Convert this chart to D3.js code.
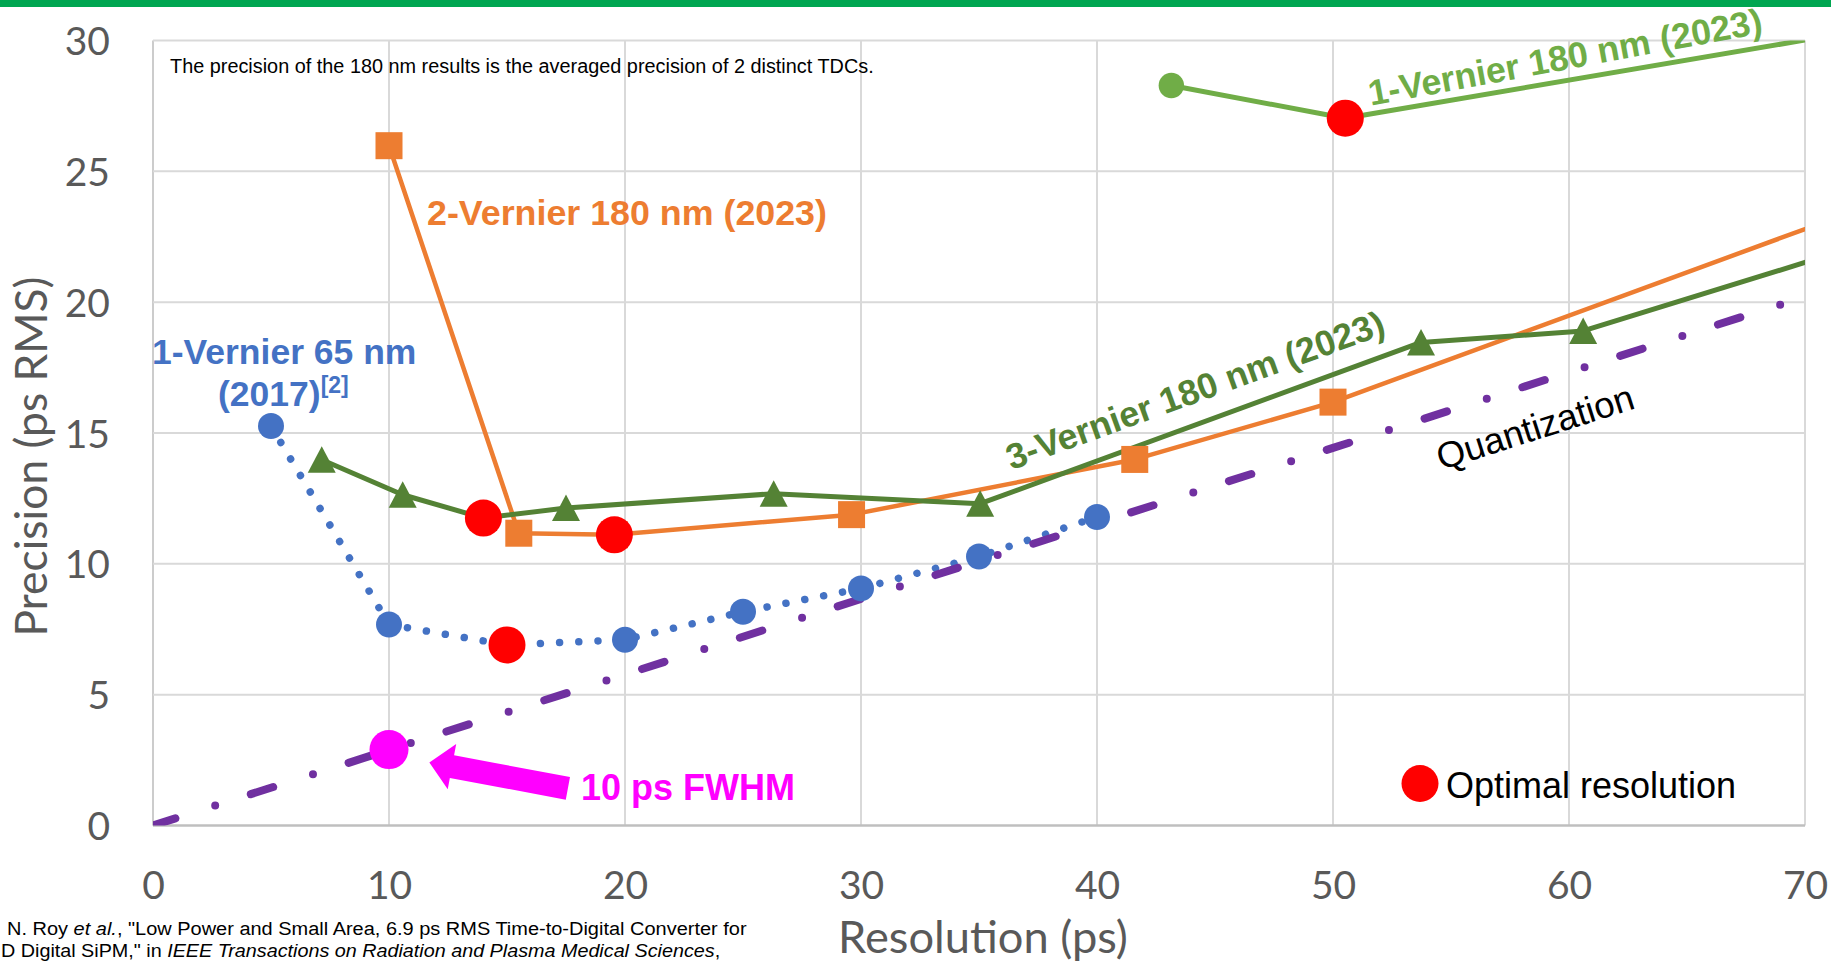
<!DOCTYPE html>
<html><head><meta charset="utf-8">
<script src="https://cdn.jsdelivr.net/npm/d3@7"></script>
<style>body{margin:0;background:#fff;overflow:hidden} svg{display:block}</style>
</head><body>
<svg id="c" width="1831" height="962"></svg>
<script>
// ---------- data ----------
const xTicks = [0, 10, 20, 30, 40, 50, 60, 70];
const yTicks = [0, 5, 10, 15, 20, 25, 30];

// 1-Vernier 65 nm (2017)
const v65X = [5, 10, 15, 20, 25, 30, 35, 40];
const v65Y = [15.27, 7.68, 6.9, 7.1, 8.17, 9.06, 10.28, 11.79];
// 2-Vernier 180 nm (2023)
const v2X = [10, 15.5, 19.55, 29.6, 41.6, 50.0, 80];
const v2Y = [25.98, 11.17, 11.11, 11.88, 13.99, 16.18, 26.1];
// 3-Vernier 180 nm (2023)
const v3X = [7.15, 10.58, 14.0, 17.5, 26.3, 35.05, 53.73, 60.6, 80];
const v3Y = [13.98, 12.64, 11.75, 12.13, 12.68, 12.3, 18.46, 18.9, 24.3];
// 1-Vernier 180 nm (2023)
const v1X = [43.15, 50.52, 80];
const v1Y = [28.28, 27.03, 31.55];
// Quantization
const quantX = [0, 10, 20, 30, 40, 50, 60, 70];
const quantY = [0, 2.89, 5.77, 8.66, 11.55, 14.43, 17.32, 20.21];
// Optimal resolution points
const optX = [14.0, 15, 19.55, 50.52];
const optY = [11.75, 6.9, 11.11, 27.03];
// 10 ps FWHM point and arrow
const fwhmX = [10];
const fwhmY = [2.9];
const arrowTip = [11.71, 2.41];
const arrowTail = [17.58, 1.42];

const zip = (a, b) => a.map((v, i) => [v, b[i]]);

// ---------- layout ----------
const svg = d3.select('#c');
const W = 1831, H = 962;
const x = d3.scaleLinear().domain([0, 70]).range([153, 1805]);
const y = d3.scaleLinear().domain([0, 30]).range([825.5, 40.5]);

const C = {
  orange: '#ED7D31', dgreen: '#548235', lgreen: '#70AD47', blue: '#4472C4',
  purple: '#7030A0', red: '#FF0000', magenta: '#FF00FF', grid: '#D9D9D9', tick: '#595959'
};
const ARIAL = "'Liberation Sans', Arial, sans-serif";
const NARROW = "'Liberation Sans Narrow', 'Liberation Sans', Arial, sans-serif";
const CALIBRI = "Lato, 'Open Sans', sans-serif";

svg.append('rect').attr('width', W).attr('height', H).attr('fill', '#fff');
// green top bar
svg.append('rect').attr('x', 0).attr('y', 0).attr('width', W).attr('height', 7).attr('fill', '#00A651');

// grid
const g = svg.append('g');
g.selectAll('line.vg').data(xTicks).join('line')
  .attr('x1', d => x(d)).attr('x2', d => x(d)).attr('y1', y(30)).attr('y2', y(0))
  .attr('stroke', d => d === 0 ? '#CCCCCC' : C.grid).attr('stroke-width', 2);
g.selectAll('line.hg').data(yTicks).join('line')
  .attr('x1', x(0)).attr('x2', x(70)).attr('y1', d => y(d)).attr('y2', d => y(d))
  .attr('stroke', d => d === 0 ? '#BFBFBF' : C.grid).attr('stroke-width', d => d === 0 ? 2.5 : 2);

// axes tick labels via d3 axes
const xAxis = svg.append('g').attr('transform', `translate(0,${y(0)})`)
  .call(d3.axisBottom(x).tickValues(xTicks).tickSize(0).tickPadding(0));
xAxis.select('.domain').remove();
xAxis.selectAll('text').attr('font-family', CALIBRI).attr('font-size', 39).attr('fill', C.tick)
  .attr('dy', null).attr('y', 73);
const yAxis = svg.append('g').attr('transform', `translate(110,0)`)
  .call(d3.axisLeft(y).tickValues(yTicks).tickSize(0).tickPadding(0));
yAxis.select('.domain').remove();
yAxis.selectAll('text').attr('font-family', CALIBRI).attr('font-size', 39).attr('fill', C.tick)
  .attr('dy', null).attr('y', 14).attr('x', 0);

function fitWidth(sel, target) {
  const w = sel.node().getComputedTextLength();
  const fs = parseFloat(sel.attr('font-size'));
  sel.attr('font-size', fs * target / w);
}
function squeeze(sel, x0, y0, target) {
  const w = sel.node().getComputedTextLength();
  sel.attr('transform', `translate(${x0},${y0}) scale(${target / w},1)`);
}

// axis titles
const xt = svg.append('text').attr('x', 983).attr('y', 953).attr('text-anchor', 'middle')
  .attr('font-family', CALIBRI).attr('font-size', 46).attr('fill', C.tick).text('Resolution (ps)');
fitWidth(xt, 290);
const yt = svg.append('text').attr('transform', 'translate(47,456.5) rotate(-90)').attr('text-anchor', 'middle')
  .attr('font-family', CALIBRI).attr('font-size', 46).attr('fill', C.tick).text('Precision (ps RMS)');
fitWidth(yt, 360);

// clip
svg.append('clipPath').attr('id', 'plot').append('rect')
  .attr('x', x(0)).attr('y', y(30)).attr('width', x(70) - x(0)).attr('height', y(0) - y(30));

const line = d3.line().x(d => x(d[0])).y(d => y(d[1]));
const inRange = d => d[0] <= 70 && d[1] <= 30;
const series = svg.append('g');
const lines = series.append('g').attr('clip-path', 'url(#plot)');

// 2-Vernier (orange, squares)
const dV2 = zip(v2X, v2Y);
lines.append('path').datum(dV2).attr('d', line).attr('fill', 'none')
  .attr('stroke', C.orange).attr('stroke-width', 4.5).attr('stroke-linejoin', 'round');
// 3-Vernier (dark green, triangles)
const dV3 = zip(v3X, v3Y);
lines.append('path').datum(dV3).attr('d', line).attr('fill', 'none')
  .attr('stroke', C.dgreen).attr('stroke-width', 5).attr('stroke-linejoin', 'round');
// 1-Vernier 180 (light green)
const dV1 = zip(v1X, v1Y);
lines.append('path').datum(dV1).attr('d', line).attr('fill', 'none')
  .attr('stroke', C.lgreen).attr('stroke-width', 5).attr('stroke-linejoin', 'round');

series.selectAll('rect.sq').data(dV2.filter(inRange)).join('rect')
  .attr('x', d => x(d[0]) - 13.5).attr('y', d => y(d[1]) - 13.5)
  .attr('width', 27).attr('height', 27).attr('fill', C.orange);
series.selectAll('path.tri').data(dV3.filter(inRange)).join('path')
  .attr('d', 'M0,-13.5 L14,13 L-14,13 Z')
  .attr('transform', d => `translate(${x(d[0])},${y(d[1])})`).attr('fill', C.dgreen);
series.selectAll('circle.lg').data(dV1.filter(inRange)).join('circle')
  .attr('cx', d => x(d[0])).attr('cy', d => y(d[1])).attr('r', 12.7).attr('fill', C.lgreen);

// 1-Vernier 65 nm (blue dotted, circles)
const dV65 = zip(v65X, v65Y);
lines.append('path').datum(dV65).attr('d', line).attr('fill', 'none')
  .attr('stroke', C.blue).attr('stroke-width', 7.5).attr('stroke-linecap', 'round')
  .attr('stroke-dasharray', '0.01 19.2');
series.selectAll('circle.bl').data(dV65).join('circle')
  .attr('cx', d => x(d[0])).attr('cy', d => y(d[1])).attr('r', 13).attr('fill', C.blue);

// Quantization (purple dash-dot)
const dQ = zip(quantX, quantY);
lines.append('path').datum(dQ).attr('d', line).attr('fill', 'none')
  .attr('stroke', C.purple).attr('stroke-width', 8).attr('stroke-linecap', 'round')
  .attr('stroke-dasharray', '23.5 41.8 0 37.4');

// 10 ps FWHM point
series.selectAll('circle.fw').data(zip(fwhmX, fwhmY)).join('circle')
  .attr('cx', d => x(d[0])).attr('cy', d => y(d[1])).attr('r', 19.5).attr('fill', C.magenta);

// arrow
(function () {
  const tx = x(arrowTip[0]), ty = y(arrowTip[1]);
  const sx = x(arrowTail[0]), sy = y(arrowTail[1]);
  const L = Math.hypot(tx - sx, ty - sy);
  const ux = (tx - sx) / L, uy = (ty - sy) / L;
  const px = -uy, py = ux;
  const sw = 23, hw = 46, hl = 23;
  const bx = tx - ux * hl, by = ty - uy * hl;
  const pts = [
    [sx + px * sw / 2, sy + py * sw / 2],
    [bx + px * sw / 2, by + py * sw / 2],
    [bx + px * hw / 2, by + py * hw / 2],
    [tx, ty],
    [bx - px * hw / 2, by - py * hw / 2],
    [bx - px * sw / 2, by - py * sw / 2],
    [sx - px * sw / 2, sy - py * sw / 2]
  ];
  svg.append('path').attr('d', 'M' + pts.map(p => p.join(',')).join('L') + 'Z').attr('fill', C.magenta);
})();

// optimal points
series.selectAll('circle.opt').data(zip(optX, optY)).join('circle')
  .attr('cx', d => x(d[0])).attr('cy', d => y(d[1])).attr('r', 18.5).attr('fill', C.red);

// ---------- labels ----------
const lab = svg.append('g').attr('font-family', ARIAL);
lab.append('text').attr('x', 427).attr('y', 225).attr('font-size', 35.8).attr('font-weight', 'bold')
  .attr('fill', C.orange).text('2-Vernier 180 nm (2023)');
lab.append('text').attr('x', 152).attr('y', 364).attr('font-size', 35.5).attr('font-weight', 'bold')
  .attr('fill', C.blue).text('1-Vernier 65 nm');
const t2017 = lab.append('text').attr('x', 218).attr('y', 406).attr('font-size', 35.5).attr('font-weight', 'bold')
  .attr('fill', C.blue);
t2017.append('tspan').text('(2017)');
t2017.append('tspan').attr('font-size', 23).attr('dy', -13).text('[2]');

lab.append('text').attr('transform', 'translate(1195,390) rotate(-20)').attr('text-anchor', 'middle')
  .attr('dy', '0.35em').attr('font-size', 35.8).attr('font-weight', 'bold').attr('fill', C.dgreen)
  .text('3-Vernier 180 nm (2023)');
lab.append('text').attr('transform', 'translate(1565,57) rotate(-10.5)').attr('text-anchor', 'middle')
  .attr('dy', '0.35em').attr('font-size', 35.8).attr('font-weight', 'bold').attr('fill', C.lgreen)
  .text('1-Vernier 180 nm (2023)');
lab.append('text').attr('transform', 'translate(1535,427) rotate(-17.7)').attr('text-anchor', 'middle')
  .attr('dy', '0.35em').attr('font-size', 36.5).attr('fill', '#000').text('Quantization');
lab.append('text').attr('x', 581).attr('y', 800).attr('font-size', 36).attr('font-weight', 'bold')
  .attr('fill', C.magenta).text('10 ps FWHM');

// legend
svg.append('circle').attr('cx', 1420).attr('cy', 783.5).attr('r', 18.5).attr('fill', C.red);
lab.append('text').attr('x', 1446).attr('y', 797.5).attr('font-size', 36).attr('fill', '#000')
  .text('Optimal resolution');

// note
const note = svg.append('text').attr('font-family', NARROW).attr('font-size', 20).attr('fill', '#000')
  .text('The precision of the 180 nm results is the averaged precision of 2 distinct TDCs.');
squeeze(note, 170, 72.5, 704);

// citation
const c1 = svg.append('text').attr('font-family', NARROW).attr('font-size', 19).attr('fill', '#000');
c1.append('tspan').text('N. Roy ');
c1.append('tspan').attr('font-style', 'italic').text('et al.');
c1.append('tspan').text(', "Low Power and Small Area, 6.9 ps RMS Time-to-Digital Converter for');
squeeze(c1, 7, 935, 740);
const c2 = svg.append('text').attr('font-family', NARROW).attr('font-size', 18.5).attr('fill', '#000');
c2.append('tspan').text('D Digital SiPM," in ');
c2.append('tspan').attr('font-style', 'italic').text('IEEE Transactions on Radiation and Plasma Medical Sciences');
c2.append('tspan').text(',');
squeeze(c2, 1, 956.5, 720);
</script>
</body></html>
